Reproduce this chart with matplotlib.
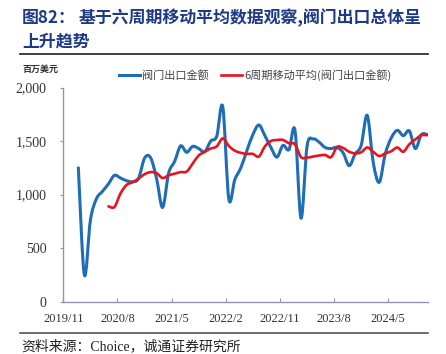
# -*- coding: utf-8 -*-
# 阀门出口金额 与 6周期移动平均
import matplotlib
matplotlib.use('Agg')
import matplotlib.pyplot as plt
from matplotlib.path import Path
from matplotlib.patches import PathPatch
from matplotlib.lines import Line2D

plt.rcParams['font.family'] = ['Noto Sans CJK SC', 'DejaVu Sans']
plt.rcParams['axes.unicode_minus'] = False

# 数据：月份 (2019/11 为第 0 个月)，数值单位：百万美元
blue_start = 2      # 2020/1
blue_vals = [1250, 250, 760, 960, 1030, 1100, 1180, 1155, 1130, 1120, 1150, 1340,   # 2020
             1345, 1150, 880, 1200, 1310, 1455, 1395, 1450, 1430, 1400, 1500, 1545,  # 2021
             1820, 960, 1140, 1250, 1410, 1560, 1650, 1550, 1440, 1350, 1460, 1420,  # 2022
             1600, 780, 1450, 1520, 1490, 1440, 1430, 1440, 1390, 1270, 1380, 1460,  # 2023
             1740, 1300, 1115, 1380, 1530, 1600, 1550, 1595, 1430, 1560, 1560]       # 2024/1-11

red_start = 7       # 2020/6
red_vals = [890, 885, 1010, 1090, 1115, 1150, 1190,                                   # 2020/6-12
            1210, 1200, 1155, 1180, 1195, 1210, 1215, 1290, 1365, 1400, 1430, 1450,   # 2021
            1525, 1455, 1410, 1390, 1380, 1380, 1355, 1450, 1500, 1510, 1510, 1480,   # 2022
            1470, 1350, 1345, 1355, 1365, 1370, 1350, 1445, 1435, 1400, 1385, 1395,   # 2023
            1440, 1400, 1360, 1385, 1405, 1440, 1400, 1470, 1515, 1555, 1555]         # 2024/1-11

tick_months = [0, 9, 18, 27, 36, 45, 54]
tick_labels = ['2019/11', '2020/8', '2021/5', '2022/2', '2022/11', '2023/8', '2024/5']
y_ticks = [0, 500, 1000, 1500, 2000]
y_labels = ['0', '500', '1,000', '1,500', '2,000']

blue_c = '#1f6db6'
red_c = '#e5141e'


def smooth_path(xs, ys):
    # 类似 Excel 平滑线：Catmull-Rom 转三次贝塞尔
    n = len(xs)
    verts = [(xs[0], ys[0])]
    codes = [Path.MOVETO]
    for i in range(n - 1):
        a = i - 1 if i > 0 else i
        d = i + 2 if i + 2 < n else i + 1
        c1 = (xs[i] + (xs[i + 1] - xs[a]) / 6, ys[i] + (ys[i + 1] - ys[a]) / 6)
        c2 = (xs[i + 1] - (xs[d] - xs[i]) / 6, ys[i + 1] - (ys[d] - ys[i]) / 6)
        verts += [c1, c2, (xs[i + 1], ys[i + 1])]
        codes += [Path.CURVE4] * 3
    return Path(verts, codes)


fig = plt.figure(figsize=(4.46, 3.54), dpi=100)
ax = fig.add_axes([63.3 / 446, 1 - 301.7 / 354, (428 - 63.3) / 446, (301.7 - 87.5) / 354])

bx = [blue_start + i + 0.5 for i in range(len(blue_vals))]
rx = [red_start + i + 0.5 for i in range(len(red_vals))]

ax.add_patch(PathPatch(smooth_path(bx, blue_vals), facecolor='none', edgecolor=blue_c,
                       lw=2.2, capstyle='round', joinstyle='round', zorder=3))
ax.add_patch(PathPatch(smooth_path(rx, red_vals), facecolor='none', edgecolor=red_c,
                       lw=1.9, capstyle='round', joinstyle='round', zorder=4))

ax.set_xlim(0, 60.6)
ax.set_ylim(0, 2000)

spine_c = '#9592b2'
for s in ['top', 'right']:
    ax.spines[s].set_visible(False)
for s in ['left', 'bottom']:
    ax.spines[s].set_color(spine_c)
    ax.spines[s].set_linewidth(1.0)

ax.set_xticks(tick_months)
ax.set_xticklabels(tick_labels, family='Liberation Serif', fontsize=9, color='#333333')
ax.set_yticks(y_ticks)
ax.set_yticklabels(y_labels, family='Liberation Serif', fontsize=10, color='#333333')
ax.tick_params(axis='x', direction='in', length=3, color=spine_c, pad=8)
ax.tick_params(axis='y', direction='out', length=2, color=spine_c, pad=10)

# 图例
handles = [Line2D([], [], color=blue_c, lw=2.2),
           Line2D([], [], color=red_c, lw=1.9)]
labels = ['阀门出口金额', '6周期移动平均(阀门出口金额)']
fig.legend(handles, labels, loc='center left', bbox_to_anchor=(113 / 446, 1 - 75 / 354),
           ncol=2, frameon=False, fontsize=8, handlelength=1.9, handletextpad=0.2,
           columnspacing=1.1, borderpad=0, labelcolor='#444444')

# 标题
title_c = '#1e3a86'
fig.text(22 / 446, 1 - 18 / 354, '图82：', fontsize=12.2, fontweight='bold',
         color=title_c, va='center', ha='left')
fig.text(79 / 446, 1 - 18 / 354, '基于六周期移动平均数据观察,阀门出口总体呈', fontsize=12.2,
         fontweight='bold', color=title_c, va='center', ha='left')
fig.text(22 / 446, 1 - 41.5 / 354, '上升趋势', fontsize=12.2, fontweight='bold',
         color=title_c, va='center', ha='left')
fig.add_artist(Line2D([20 / 446, 428 / 446], [1 - 54.3 / 354] * 2, color='#333333',
                      lw=1.3, transform=fig.transFigure))

fig.text(22 / 446, 1 - 69 / 354, '百万美元', fontsize=6.5, fontweight='bold',
         color='#333333', va='center', ha='left')

# 资料来源
fig.add_artist(Line2D([20 / 446, 428 / 446], [1 - 332.7 / 354] * 2, color='#555555',
                      lw=1.2, transform=fig.transFigure))
fig.text(21 / 446, 1 - 346 / 354, '资料来源：Choice，诚通证券研究所', fontsize=10,
         family=['Liberation Serif', 'Noto Sans CJK SC'], color='#222222',
         va='center', ha='left')

fig.savefig('out.png', dpi=100)
